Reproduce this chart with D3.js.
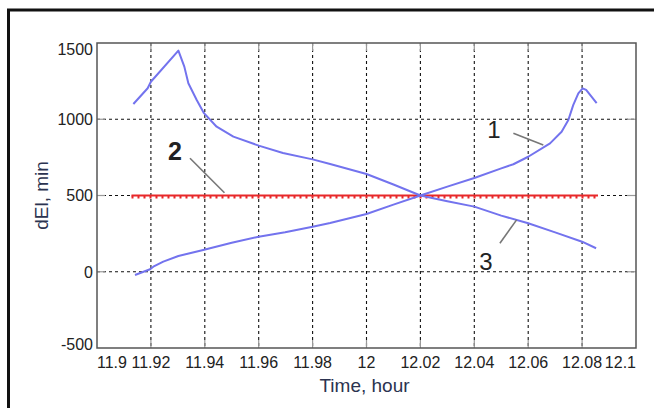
<!DOCTYPE html>
<html lang="en">
<head>
    <meta charset="UTF-8">
    <title>dEl vs time</title>
    <script src="https://d3js.org/d3.v7.min.js"></script>
    <style>
        body { margin: 0; background: #fff; }
        svg { display: block; font-family: Arial, "Liberation Sans", sans-serif; }
        .tick-label { font-size: 16px; fill: #222; }
        .axis-title { font-size: 19px; fill: #2b3350; }
    </style>
</head>
<body>
    <svg width="654" height="408"></svg>

    <script>
        // curve 1 (rising)
        const curve1Time = [11.9141, 11.9197, 11.9209, 11.9246, 11.9302, 11.9394, 11.95, 11.96, 11.9698, 11.98,
            11.9865, 12.0, 12.01, 12.02, 12.03, 12.04, 12.05, 12.0545, 12.06, 12.0681, 12.0724, 12.0749,
            12.0767, 12.0786, 12.0802, 12.0815, 12.0854];
        const curve1Val = [-21, 16, 33, 66, 103, 143, 190, 230, 259, 295,
            320, 379, 440, 500, 558, 615, 678, 705, 754, 842, 918, 995,
            1093, 1170, 1203, 1192, 1105];

        // curve 3 (falling)
        const curve3Time = [11.9135, 11.9188, 11.92, 11.9302, 11.9324, 11.9339, 11.937, 11.9397, 11.9444, 11.9506,
            11.96, 11.969, 11.98, 11.9865, 12.0, 12.01, 12.02, 12.03, 12.04, 12.05, 12.06, 12.07, 12.08, 12.0852];
        const curve3Val = [1100, 1203, 1246, 1450, 1345, 1236, 1126, 1040, 951, 886,
            827, 779, 737, 707, 641, 572, 500, 462, 427, 368, 318, 258, 197, 154];

        // curve 2 (constant)
        const curve2Time = [11.9128, 12.0859];
        const curve2Val = [500, 500];

        const xTicks = [11.9, 11.92, 11.94, 11.96, 11.98, 12, 12.02, 12.04, 12.06, 12.08, 12.1];
        const yTicks = [-500, 0, 500, 1000, 1500];

        // curve number labels: text point, leader start, leader end
        const labelText = ["1", "2", "3"];
        const labelPos = [[12.0473, 877], [11.9289, 733], [12.0443, 11]];
        const leaderFrom = [[12.0545, 908], [11.9345, 744], [12.0495, 187]];
        const leaderTo = [[12.0656, 831], [11.9473, 518], [12.0557, 340]];

        const svg = d3.select("svg");
        const plotL = 97, plotR = 636, plotT = 43, plotB = 348;

        const x = d3.scaleLinear().domain([11.9, 12.1]).range([plotL, plotR]);
        const y = d3.scaleLinear().domain([-500, 1500]).range([plotB, plotT]);

        // outer frame
        svg.append("rect")
            .attr("x", 8.5).attr("y", 10)
            .attr("width", 700).attr("height", 450)
            .attr("fill", "#fff").attr("stroke", "#111").attr("stroke-width", 3);

        // grid
        const inner = xTicks.slice(1, -1);
        const innerY = yTicks.slice(1, -1);
        svg.append("g").selectAll("line").data(inner).join("line")
            .attr("x1", d => x(d)).attr("x2", d => x(d))
            .attr("y1", plotT).attr("y2", plotB)
            .attr("stroke", "#111").attr("stroke-width", 1.1).attr("stroke-dasharray", "3,3");
        svg.append("g").selectAll("line").data(innerY).join("line")
            .attr("x1", plotL).attr("x2", plotR)
            .attr("y1", d => y(d)).attr("y2", d => y(d))
            .attr("stroke", "#111").attr("stroke-width", 1.1).attr("stroke-dasharray", "3,3");

        // inward tick marks
        const tk = svg.append("g").attr("stroke", "#999").attr("stroke-width", 1.2);
        tk.selectAll(".tb").data(inner).join("line").attr("class", "tb")
            .attr("x1", d => x(d)).attr("x2", d => x(d)).attr("y1", plotB).attr("y2", plotB - 8);
        tk.selectAll(".tt").data(inner).join("line").attr("class", "tt")
            .attr("x1", d => x(d)).attr("x2", d => x(d)).attr("y1", plotT).attr("y2", plotT + 8);
        tk.selectAll(".tl").data(innerY).join("line").attr("class", "tl")
            .attr("x1", plotL).attr("x2", plotL + 8).attr("y1", d => y(d)).attr("y2", d => y(d));
        tk.selectAll(".tr").data(innerY).join("line").attr("class", "tr")
            .attr("x1", plotR).attr("x2", plotR - 9).attr("y1", d => y(d)).attr("y2", d => y(d));

        const line = d3.line().x(d => x(d[0])).y(d => y(d[1]));

        // curve 2: red line with small markers
        const c2 = curve2Time.map((t, i) => [t, curve2Val[i]]);
        svg.append("path").datum(c2).attr("d", line)
            .attr("fill", "none").attr("stroke", "#e8282a").attr("stroke-width", 2);
        svg.append("path").datum(c2).attr("d", line)
            .attr("transform", "translate(0,1.5)")
            .attr("fill", "none").attr("stroke", "#e8282a").attr("stroke-width", 3)
            .attr("stroke-dasharray", "2,4");

        // curves 1 and 3
        [[curve1Time, curve1Val], [curve3Time, curve3Val]].forEach(([ts, vs]) => {
            svg.append("path").datum(ts.map((t, i) => [t, vs[i]])).attr("d", line)
                .attr("fill", "none").attr("stroke", "#7373ee").attr("stroke-width", 2)
                .attr("stroke-linejoin", "round");
        });

        // plot box
        svg.append("rect")
            .attr("x", plotL).attr("y", plotT)
            .attr("width", plotR - plotL).attr("height", plotB - plotT)
            .attr("fill", "none").attr("stroke", "#555").attr("stroke-width", 1.5);

        // tick labels (edge labels pulled inside)
        svg.append("g").selectAll("text").data(xTicks).join("text")
            .attr("class", "tick-label")
            .attr("x", d => x(d)).attr("y", plotB + 20)
            .attr("text-anchor", (d, i) => i === 0 ? "start" : i === xTicks.length - 1 ? "end" : "middle")
            .text(d => d);
        svg.append("g").selectAll("text").data(yTicks).join("text")
            .attr("class", "tick-label")
            .attr("x", plotL - 4)
            .attr("y", (d, i) => y(d) + (i === 0 ? -4 : i === yTicks.length - 1 ? 6 : 0))
            .attr("dy", "0.36em")
            .attr("text-anchor", "end")
            .text(d => d);

        // axis titles
        svg.append("text").attr("class", "axis-title")
            .attr("x", (plotL + plotR) / 2 - 2).attr("y", 392)
            .attr("text-anchor", "middle").text("Time, hour");
        svg.append("text").attr("class", "axis-title")
            .attr("transform", `translate(48, ${y(500)}) rotate(-90)`)
            .attr("text-anchor", "middle").text("dEl, min");

        // curve labels with leader lines
        svg.append("g").selectAll("line").data(leaderFrom).join("line")
            .attr("x1", d => x(d[0])).attr("y1", d => y(d[1]))
            .attr("x2", (d, i) => x(leaderTo[i][0])).attr("y2", (d, i) => y(leaderTo[i][1]))
            .attr("stroke", "#777").attr("stroke-width", 1.6);
        svg.append("g").selectAll("text").data(labelText).join("text")
            .attr("x", (d, i) => x(labelPos[i][0])).attr("y", (d, i) => y(labelPos[i][1]))
            .attr("text-anchor", "middle")
            .attr("font-size", d => d === "2" ? 25 : 24)
            .attr("font-weight", d => d === "2" ? "bold" : "normal")
            .attr("fill", "#222")
            .text(d => d);
    </script>
</body>
</html>
